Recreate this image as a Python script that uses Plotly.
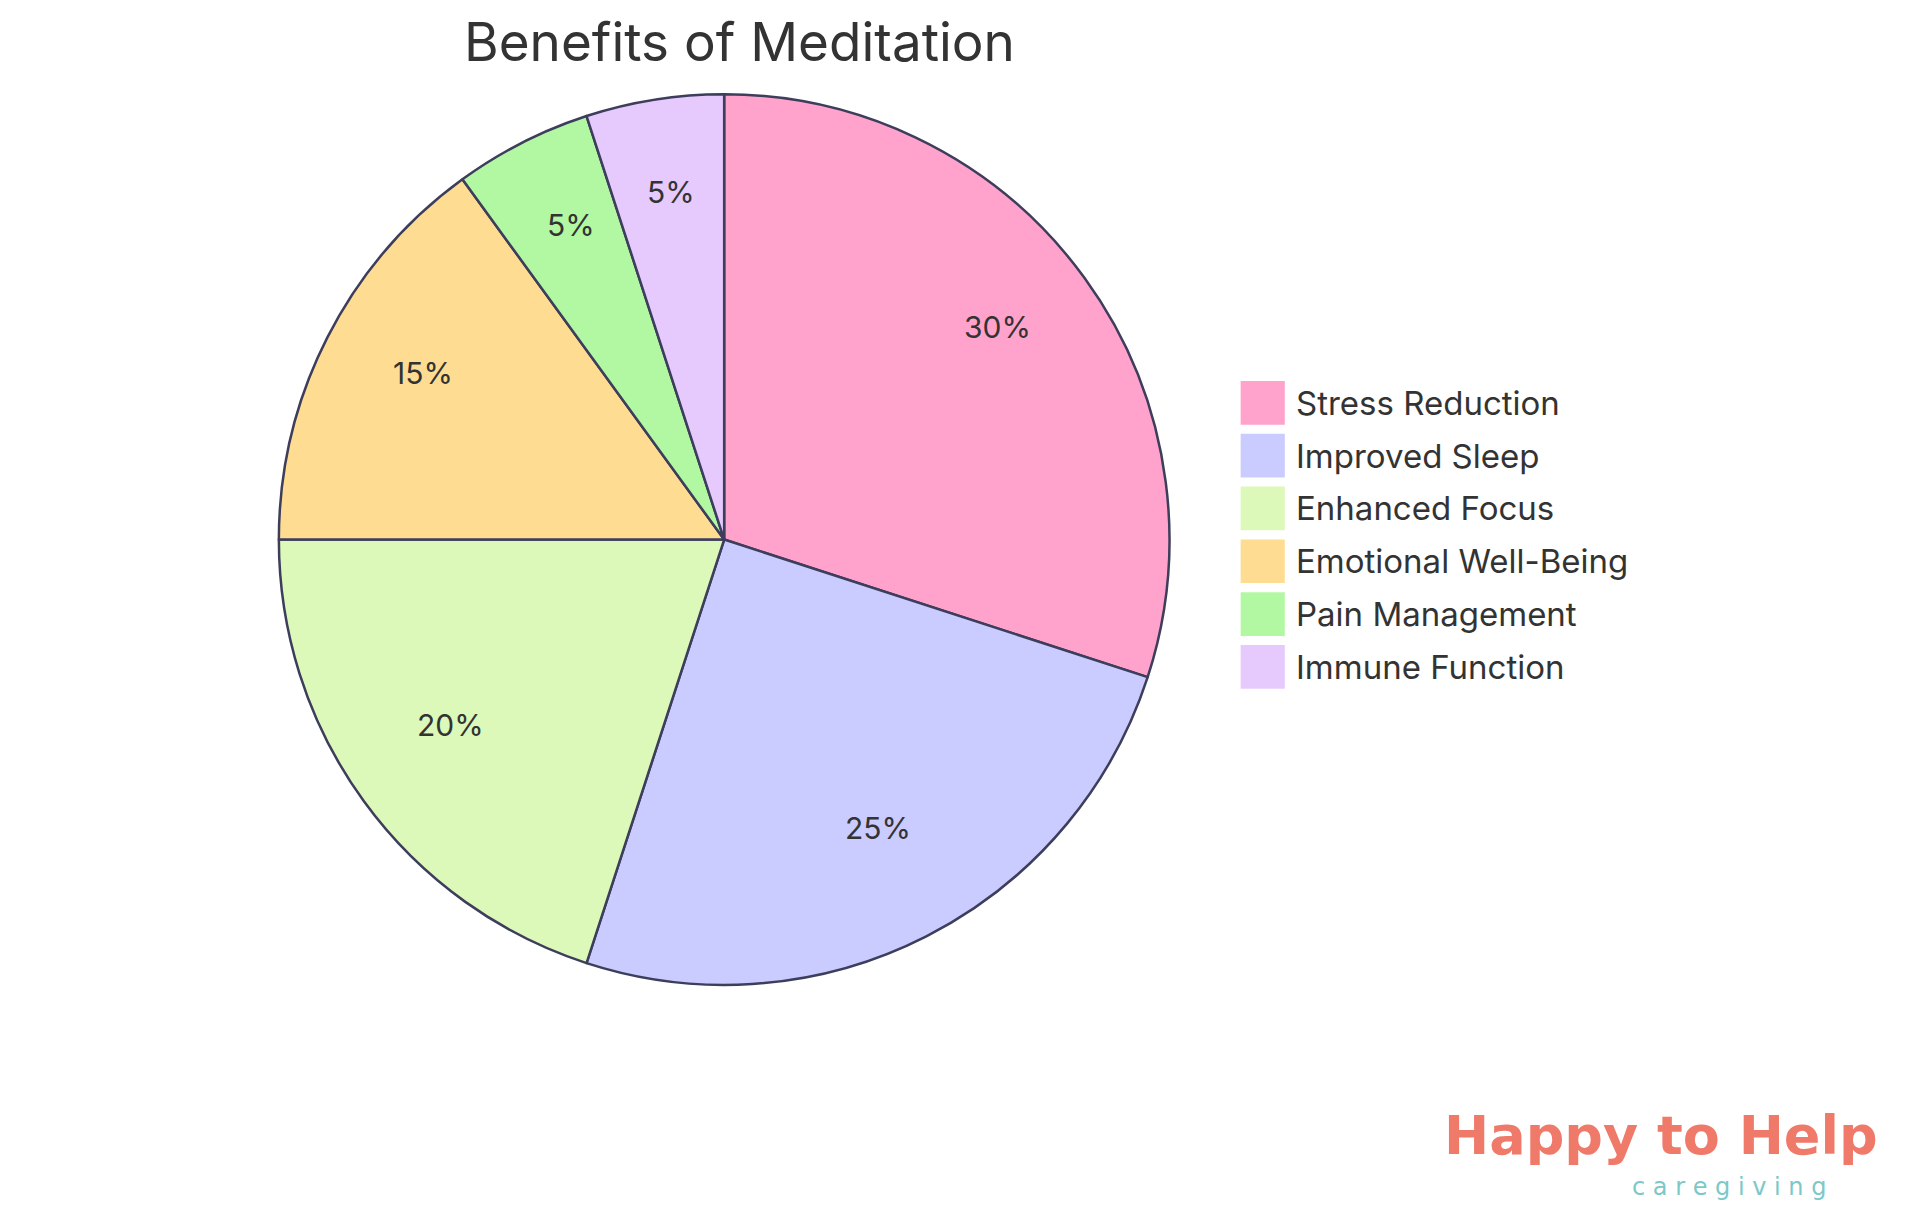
import math
import plotly.graph_objects as go

labels = ["Stress Reduction", "Improved Sleep", "Enhanced Focus", "Emotional Well-Being", "Pain Management", "Immune Function"]
values = [30, 25, 20, 15, 5, 5]
colors = ["#FFA3CC", "#CACBFE", "#DCF9BA", "#FEDD92", "#B2F8A2", "#E6CAFD"]

W, H = 1920, 1215
dx0, dx1 = 0.139, 0.607
dy0, dy1 = 0.196, 0.929
up = 9 / 990  # text baseline correction

fig = go.Figure(go.Pie(
    labels=labels, values=values, sort=False, direction="clockwise", rotation=0,
    marker=dict(colors=colors, line=dict(color="#3D3D5C", width=2.5)),
    textinfo="none", showlegend=False, hoverinfo="label+percent",
    domain=dict(x=[dx0, dx1], y=[dy0, dy1]),
))

ann = []
cx, cy = (dx0 + dx1) / 2 * W, (dy0 + dy1) / 2 * H
R = (dy1 - dy0) / 2 * H
tot = sum(values)
cum = 0
for v in values:
    mid = (cum + v / 2) / tot * 2 * math.pi
    cum += v
    rr = 0.76 * R
    px = cx + rr * math.sin(mid)
    py = cy + rr * math.cos(mid)
    ann.append(dict(text=f"{round(v / tot * 100)}%", x=px / W, y=py / H + 1.2 * up, xref="paper", yref="paper",
                    xanchor="center", yanchor="middle",
                    showarrow=False, font=dict(size=30, color="#333333")))

shapes = []
row_y = [329, 372, 415, 458, 501, 544]
for lab, col, ry in zip(labels, colors, row_y):
    yc = 1 - ry / 990
    shapes.append(dict(type="rect", xref="paper", yref="paper", x0=0.642, x1=0.665,
                       y0=yc - 0.018 + up * 0.8, y1=yc + 0.018 + up * 0.8, fillcolor=col, line=dict(width=0)))
    ann.append(dict(text=lab, x=0.670, y=yc + up * 0.8, xref="paper", yref="paper", xanchor="left", yanchor="middle",
                    showarrow=False, font=dict(size=33, color="#333333")))

ann.append(dict(text="Benefits of Meditation", x=0.381, y=1 - 34 / 990 + up * 0.7, xref="paper", yref="paper",
                xanchor="center", yanchor="middle",
                showarrow=False, font=dict(size=53, color="#333333")))
ann.append(dict(text="<b>Happy to Help</b>", x=0.975, y=1 - 928 / 990 + up, xref="paper", yref="paper",
                xanchor="right", yanchor="middle", showarrow=False,
                font=dict(size=54, color="#F07A6A", family="DejaVu Sans")))
ann.append(dict(text="c a r e g i v i n g", x=0.948, y=1 - 970 / 990 + 1.0 * up, xref="paper", yref="paper",
                xanchor="right", yanchor="middle", showarrow=False,
                font=dict(size=24, color="#7CC8C8", family="DejaVu Sans")))

fig.update_layout(
    width=W, height=H, paper_bgcolor="white", plot_bgcolor="white",
    margin=dict(l=0, r=0, t=0, b=0),
    font=dict(family="Inter, Lato, sans-serif", color="#333333"),
    annotations=ann, shapes=shapes, showlegend=False,
)
fig.write_html("out.html")
